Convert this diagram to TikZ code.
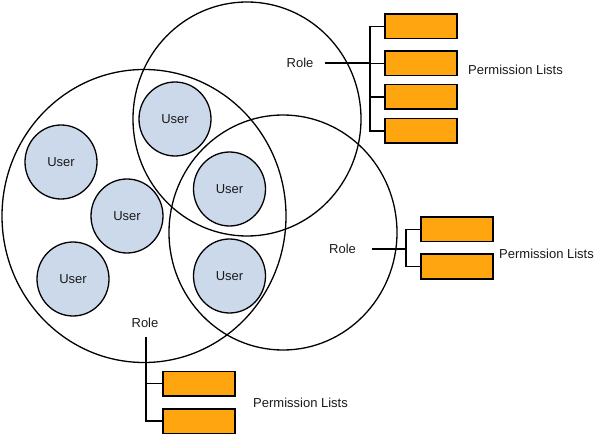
\documentclass[tikz,border=0pt]{standalone}
\usepackage{fontspec}
\setmainfont{Liberation Sans}
\usetikzlibrary{shapes.geometric}
\definecolor{userblue}{HTML}{CCD9EB}
\definecolor{permorange}{HTML}{FFA50F}
\definecolor{txt}{HTML}{1A1A1A}
\begin{document}
\begin{tikzpicture}[x=1pt,y=-1pt,
  every node/.style={font=\fontsize{13}{15}\selectfont, text=txt},
  rolecircle/.style={draw=black, line width=1.3pt},
  user/.style={draw=black, ellipse, fill=userblue, line width=1.3pt,
    minimum width=72pt, minimum height=74pt, inner sep=0pt},
  perm/.style={draw=black, fill=permorange, line width=1.5pt,
    minimum width=72pt, minimum height=24.5pt, inner sep=0pt},
  lbl/.style={inner sep=0pt},
  conn/.style={draw=black, line width=1.3pt},
  mainconn/.style={draw=black, line width=2pt}]
\useasboundingbox (0,0) rectangle (596,435);

% role circles
\draw[rolecircle] (144,216) ellipse [x radius=142, y radius=146.5];
\draw[rolecircle] (247,119) ellipse [x radius=114, y radius=117];
\draw[rolecircle] (283,232.5) ellipse [x radius=114, y radius=117.5];

% users
\node[user] (u1) at (175,119) {User};
\node[user] (u2) at (61,162) {User};
\node[user] (u3) at (127,216) {User};
\node[user] (u4) at (73,279) {User};
\node[user] (u5) at (229.5,189) {User};
\node[user] (u6) at (229.5,276) {User};

% top role
\node[lbl] (r1) at (300,62.7) {Role};
\node[perm] (p11) at (421,26.3) {};
\node[perm] (p12) at (421,63.5) {};
\node[perm] (p13) at (421,97) {};
\node[perm] (p14) at (421,131) {};
\node[lbl, anchor=west] (l1) at (468,69.5) {Permission Lists};
\coordinate (s1) at (370,63.5);
\draw[conn] (p11.west) -- (p11.west -| s1) |- (p14.west);
\draw[conn] (p13.west) -- (p13.west -| s1);
\draw[conn] (s1) -- (p12.west);
\draw[mainconn] ([xshift=11pt]r1.east |- s1) -- (s1);

% right role
\node[lbl] (r2) at (342.5,249) {Role};
\node[perm] (p21) at (457,229.5) {};
\node[perm] (p22) at (457,266.5) {};
\node[lbl, anchor=west] (l2) at (499,253.5) {Permission Lists};
\coordinate (s2) at (406,249);
\draw[conn] (p21.west) -- (p21.west -| s2) |- (p22.west);
\draw[conn] ([xshift=16pt]r2.east |- s2) -- (s2);

% bottom role
\node[lbl] (r3) at (145,323) {Role};
\node[perm] (p31) at (199,383.5) {};
\node[perm] (p32) at (199,421) {};
\node[lbl, anchor=west] (l3) at (253,402.5) {Permission Lists};
\coordinate (s3) at (146,337);
\draw[conn] (s3) |- (p32.west);
\draw[conn] (p31.west) -- (p31.west -| s3);
\end{tikzpicture}
\end{document}
